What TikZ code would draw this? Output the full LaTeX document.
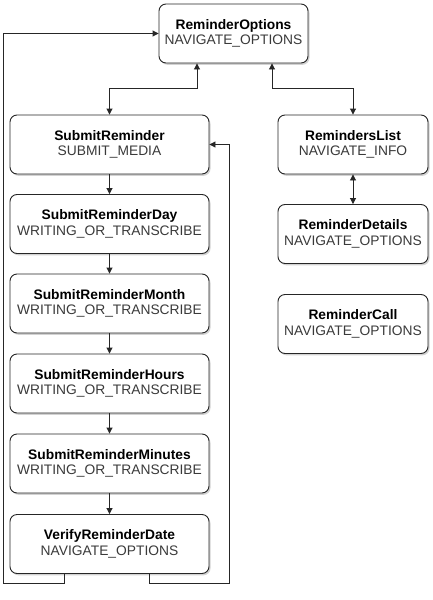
\documentclass[tikz,border=0pt]{standalone}
\usepackage{fontspec}
\setmainfont{Liberation Sans}
\usetikzlibrary{arrows.meta,shadows}
\definecolor{typegray}{HTML}{3A3A3A}
\tikzset{
  state/.style={draw=black!85, line width=0.9pt, rounded corners=7pt, fill=white,
    drop shadow={shadow xshift=1.5pt, shadow yshift=-1.8pt, opacity=0.35},
    align=center, inner sep=0pt, font=\fontsize{13.8}{16}\selectfont,
    minimum height=59pt},
  wide/.style={minimum width=199pt},
  narrow/.style={minimum width=150pt},
  conn/.style={draw=black!85, line width=0.9pt, -{Triangle[length=6pt,width=6pt]}},
  biconn/.style={draw=black!85, line width=0.9pt, {Triangle[length=6pt,width=6pt]}-{Triangle[length=6pt,width=6pt]}},
}
\newcommand{\st}[2]{\textbf{#1}\\[-0.5pt]\textcolor{typegray}{#2}}
\begin{document}
\begin{tikzpicture}[x=1pt,y=-1pt]
\useasboundingbox (0,0) rectangle (432,600);
\fill[white] (0,0) rectangle (432,600);
\node[state, minimum width=149pt] (ro) at (233.5,33.5) {\st{ReminderOptions}{NAVIGATE\_OPTIONS}};
\node[state, wide] (sr) at (109.5,144.5) {\st{SubmitReminder}{SUBMIT\_MEDIA}};
\node[state, wide] (srd) at (109.5,224) {\st{SubmitReminderDay}{WRITING\_OR\_TRANSCRIBE}};
\node[state, wide] (srm) at (109.5,303.5) {\st{SubmitReminderMonth}{WRITING\_OR\_TRANSCRIBE}};
\node[state, wide] (srh) at (109.5,383.5) {\st{SubmitReminderHours}{WRITING\_OR\_TRANSCRIBE}};
\node[state, wide] (srmin) at (109.5,463.5) {\st{SubmitReminderMinutes}{WRITING\_OR\_TRANSCRIBE}};
\node[state, wide] (vrd) at (109.5,544) {\st{VerifyReminderDate}{NAVIGATE\_OPTIONS}};
\node[state, narrow] (rl) at (353,144.5) {\st{RemindersList}{NAVIGATE\_INFO}};
\node[state, narrow] (rd) at (353,234) {\st{ReminderDetails}{NAVIGATE\_OPTIONS}};
\node[state, narrow] (rc) at (353,324) {\st{ReminderCall}{NAVIGATE\_OPTIONS}};

\coordinate (roL) at (197,63);
\coordinate (roR) at (272,63);
\draw[biconn] (roL |- ro.south) -- (197,88) -- (109.5,88) -- (sr.north);
\draw[biconn] (roR |- ro.south) -- (272,88) -- (353,88) -- (rl.north);
\draw[biconn] (rl.south) -- (rd.north);
\draw[conn] (sr) -- (srd);
\draw[conn] (srd) -- (srm);
\draw[conn] (srm) -- (srh);
\draw[conn] (srh) -- (srmin);
\draw[conn] (srmin) -- (vrd);
\coordinate (vL) at (64,0);
\coordinate (vR) at (149,0);
\draw[conn] (vL |- vrd.south) -- (64,583) -- (3,583) -- (3,33.5) -- (ro.west);
\draw[conn] (vR |- vrd.south) -- (149,583) -- (229,583) -- (229,144.5) -- (sr.east);
\end{tikzpicture}
\end{document}
